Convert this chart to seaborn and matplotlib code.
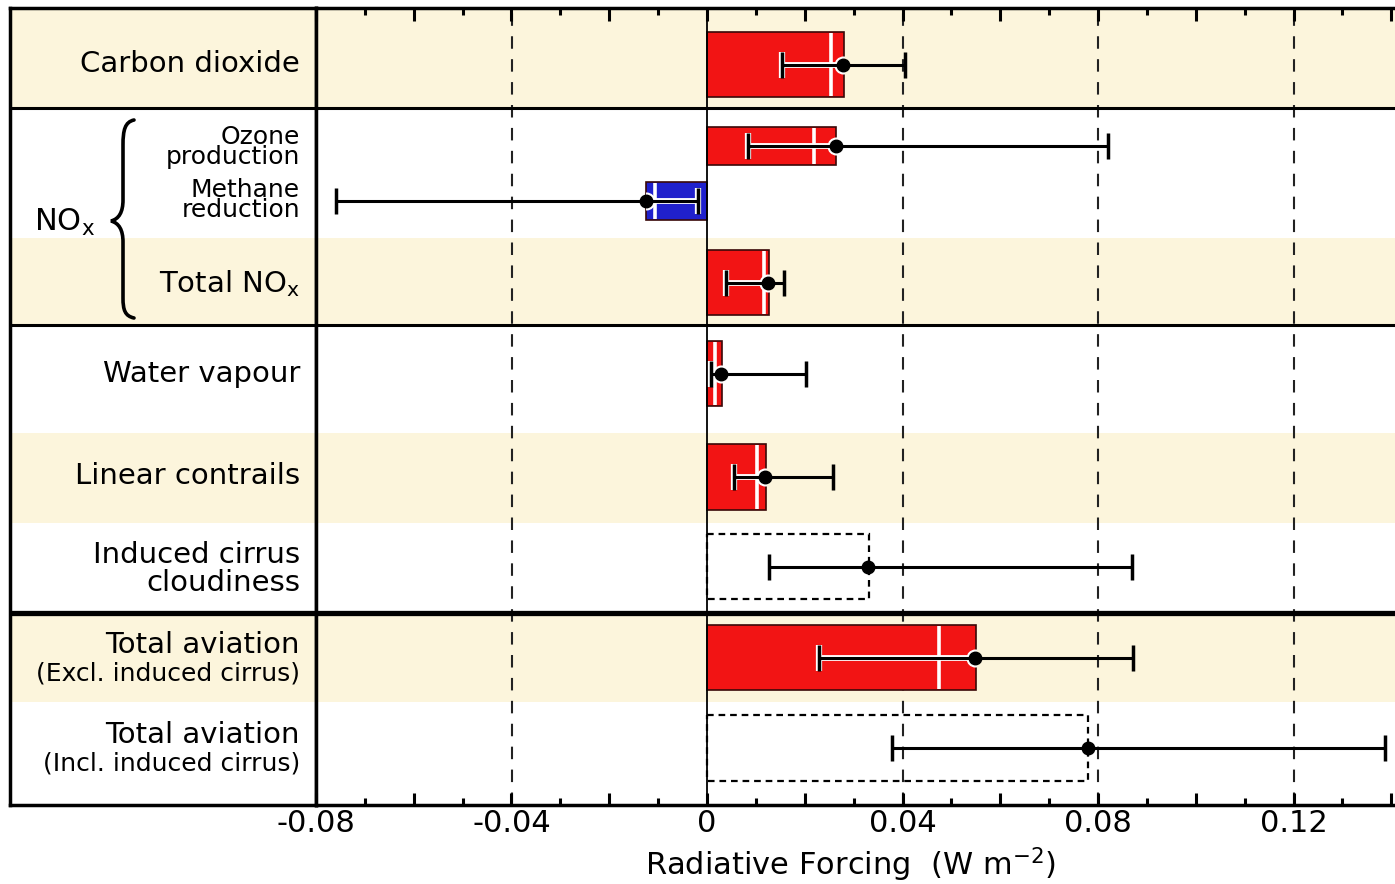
import numpy as np
import pandas as pd
import seaborn as sns
import matplotlib.pyplot as plt
from matplotlib.path import Path
from matplotlib.patches import PathPatch
from matplotlib.ticker import MultipleLocator, FuncFormatter

# ---------------- data ----------------
categories = ["Carbon dioxide", "Ozone production", "Methane reduction", "Total NOx",
              "Water vapour", "Linear contrails", "Induced cirrus cloudiness",
              "Total aviation (Excl. induced cirrus)", "Total aviation (Incl. induced cirrus)"]
best_estimate = [0.0280, 0.0264, -0.0125, 0.0127, 0.0030, 0.0120, 0.0332, 0.0550, 0.0780]
white_marker = [0.0253, 0.0219, -0.0106, 0.0117, 0.0016, 0.0103, np.nan, 0.0474, np.nan]
dot_value = [0.0278, 0.0264, -0.0125, 0.0125, 0.0029, 0.0119, 0.0330, 0.0548, 0.0779]
err_low = [0.0153, 0.0084, -0.0759, 0.0039, 0.0008, 0.0055, 0.0126, 0.0229, 0.0379]
err_high = [0.0405, 0.0820, -0.0018, 0.0158, 0.0203, 0.0257, 0.0869, 0.0871, 0.1388]
bar_kind = ["pos", "pos", "neg", "pos", "pos", "pos", "open", "pos", "open"]

tick_values = [-0.08, -0.04, 0, 0.04, 0.08, 0.12]
xlabel_text = "Radiative Forcing  (W m$^{\\mathregular{-2}}$)"
group_label = "NO$_{\\mathregular{x}}$"

# label column texts: (text, baseline y px of LAST line, size key)
label_lines = [
    ("Carbon dioxide", 72, "big"),
    ("Ozone\nproduction", 164, "small"),
    ("Methane\nreduction", 217, "small"),
    ("Total NO$_{\\mathregular{x}}$", 292, "big"),
    ("Water vapour", 382, "big"),
    ("Linear contrails", 484, "big"),
    ("Induced cirrus\ncloudiness", 591, "big2"),
    ("Total aviation", 653, "big"), ("(Excl. induced cirrus)", 680, "small"),
    ("Total aviation", 743, "big"), ("(Incl. induced cirrus)", 770, "small"),
]

# ---------------- layout (pixels) ----------------
W, H = 1395, 884
TOP, BOT = 8, 805
row_center = [64.5, 146, 201, 282.5, 373.5, 477, 566.5, 657.5, 748]
bar_height = [65, 38, 38, 65, 65, 66, 65, 65, 66]
beige_rows = [(8, 108), (238, 325), (433, 523), (613, 702)]
separators = [(108, 2.2), (325, 2.2), (613, 3.8)]

RED = "#F21414"
BLUE = "#2020CC"
BEIGE = "#FCF5DC"
colors = {"pos": RED, "neg": BLUE}

plt.rcParams['font.family'] = ['DejaVu Sans']
plt.rcParams['mathtext.fontset'] = 'dejavusans'

fig = plt.figure(figsize=(W / 100, H / 100), dpi=100)


def fr(x0, y0, x1, y1):
    return [x0 / W, 1 - y1 / H, (x1 - x0) / W, (y1 - y0) / H]


axL = fig.add_axes(fr(10, TOP, 316, BOT))
ax = fig.add_axes(fr(316, TOP, W, BOT))

for a in (axL, ax):
    for (y0, y1) in beige_rows:
        a.axhspan(y0, y1, color=BEIGE, lw=0, zorder=0)
    for (yy, lw) in separators:
        a.axhline(yy, color="black", lw=lw, zorder=6)

# grid lines
for v in [-0.04, 0.04, 0.08, 0.12]:
    ax.axvline(v, color="#222222", lw=1.5, ls=(0, (6, 5)), zorder=0.5)
ax.axvline(0, color="black", lw=1.3, zorder=4.5)

# bars
bar_patches = []
for i in range(len(categories)):
    yc, bh = row_center[i], bar_height[i]
    if bar_kind[i] == "open":
        sns.barplot(x=[best_estimate[i]], y=[yc], orient="h", native_scale=True,
                    width=bh, color="black", fill=False, linestyle=(0, (3, 2.2)),
                    linewidth=1.6, errorbar=None, ax=ax, zorder=2)
        bar_patches.append(None)
    else:
        sns.barplot(x=[best_estimate[i]], y=[yc], orient="h", native_scale=True,
                    width=bh, color=colors[bar_kind[i]], saturation=1,
                    edgecolor="#3a0808", linewidth=1.2, errorbar=None, ax=ax, zorder=2)
        bar_patches.append(ax.patches[-1])
        if not np.isnan(white_marker[i]):
            ax.vlines(white_marker[i], yc - bh / 2 + 1, yc + bh / 2 - 1,
                      color="white", lw=2.6, zorder=3)

# error bars with best-estimate dots (white halo inside the bars)
for i in range(len(categories)):
    yc = row_center[i]
    d = dot_value[i]
    xerr = [[d - err_low[i]], [err_high[i] - d]]
    if bar_patches[i] is not None:
        halo = ax.errorbar(d, yc, xerr=xerr, fmt="o", color="white", ms=12, lw=4.2,
                           capsize=9.5, capthick=4.5, zorder=4.8)
        for art in [halo[0]] + list(halo[1]) + list(halo[2]):
            art.set_clip_path(bar_patches[i])
    ax.errorbar(d, yc, xerr=xerr, fmt="o", color="black", ms=9, lw=2.2,
                capsize=9.5, capthick=2.5, zorder=5)

ax.set_xlim(-0.08, (W - 707) / 4887.5)
ax.set_ylim(BOT, TOP)
ax.set_yticks([])
ax.set_ylabel("")
ax.xaxis.set_major_locator(MultipleLocator(0.02))
ax.xaxis.set_minor_locator(MultipleLocator(0.01))


def fmt(v, pos):
    for t in tick_values:
        if abs(v - t) < 1e-9:
            return "0" if t == 0 else f"{t:g}"
    return ""


ax.xaxis.set_major_formatter(FuncFormatter(fmt))
ax.tick_params(axis="x", which="major", direction="in", length=9, width=2.2,
               top=True, bottom=True, labelsize=22, pad=3, color="black")
ax.tick_params(axis="x", which="minor", direction="in", length=5, width=2.2,
               top=True, bottom=True, color="black")
ax.set_xlabel("")
for s in ("top", "bottom", "left"):
    ax.spines[s].set_linewidth(2.5)
    ax.spines[s].set_color("black")
ax.spines["right"].set_visible(False)
ax.set_facecolor("white")

fig.text(850 / W, 1 - 875 / H, xlabel_text, fontsize=22, ha="center", va="baseline")

# label column
axL.set_xlim(10, 316)
axL.set_ylim(BOT, TOP)
axL.set_xticks([])
axL.set_yticks([])
for s in axL.spines.values():
    s.set_linewidth(2.5)
    s.set_color("black")

sizes = {"big": 21, "big2": 21, "small": 18}
spacing = {"big": 1.0, "big2": 1.0, "small": 0.78}
for txt, yb, sk in label_lines:
    axL.text(300, yb, txt, ha="right", va="baseline", fontsize=sizes[sk],
             linespacing=spacing[sk], multialignment="right")

axL.text(34, 231, group_label, ha="left", va="baseline", fontsize=22)

# curly brace
verts = [(134, 120), (125, 122), (123, 130), (123, 145),
         (123, 200),
         (123, 212), (119, 219), (111, 221),
         (119, 223), (123, 230), (123, 242),
         (123, 298),
         (123, 310), (125, 316), (134, 318)]
codes = [Path.MOVETO, Path.CURVE4, Path.CURVE4, Path.CURVE4,
         Path.LINETO,
         Path.CURVE4, Path.CURVE4, Path.CURVE4,
         Path.CURVE4, Path.CURVE4, Path.CURVE4,
         Path.LINETO,
         Path.CURVE4, Path.CURVE4, Path.CURVE4]
axL.add_patch(PathPatch(Path(verts, codes), fill=False, lw=2.6, color="black",
                        capstyle="round", zorder=7))

fig.savefig("out.png", dpi=100)
